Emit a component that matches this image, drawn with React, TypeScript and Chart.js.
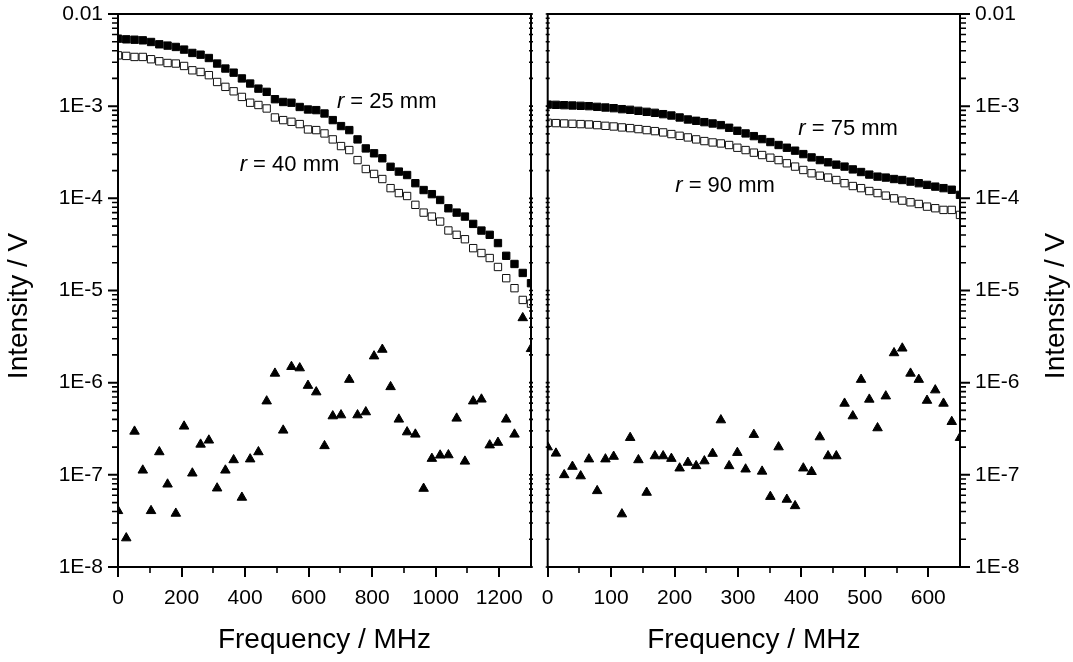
import React, { useEffect, useRef } from 'react';
import { Chart, registerables } from 'chart.js';

Chart.register(...registerables);

const FONT = '"Liberation Sans", Arial, Helvetica, sans-serif';

// ---------- data ----------
const freqLeft = [
  0, 26, 52, 78, 104, 130, 156, 182, 208, 234, 260, 286, 312, 338, 364, 390, 416,
  442, 468, 494, 520, 546, 572, 598, 624, 650, 676, 702, 728, 754, 780, 806, 832,
  858, 884, 910, 936, 962, 988, 1014, 1040, 1066, 1092, 1118, 1144, 1170, 1196,
  1222, 1248, 1274, 1300,
];
const freqRight = [
  0, 13, 26, 39, 52, 65, 78, 91, 104, 117, 130, 143, 156, 169, 182, 195, 208, 221,
  234, 247, 260, 273, 286, 299, 312, 325, 338, 351, 364, 377, 390, 403, 416, 429,
  442, 455, 468, 481, 494, 507, 520, 533, 546, 559, 572, 585, 598, 611, 624, 637, 650,
];

const r25 = [
  5.4e-3, 5.31e-3, 5.26e-3, 5.18e-3, 4.97e-3, 4.69e-3, 4.54e-3, 4.39e-3, 4.11e-3, 3.78e-3,
  3.62e-3, 3.33e-3, 2.9e-3, 2.56e-3, 2.31e-3, 2.0e-3, 1.76e-3, 1.55e-3, 1.43e-3, 1.19e-3,
  1.11e-3, 1.09e-3, 9.8e-4, 9.2e-4, 9.06e-4, 8.33e-4, 7.06e-4, 6.08e-4, 5.5e-4, 4.36e-4,
  3.48e-4, 3.08e-4, 2.72e-4, 2.2e-4, 1.95e-4, 1.79e-4, 1.46e-4, 1.23e-4, 1.11e-4, 9.6e-5,
  7.8e-5, 7.0e-5, 6.34e-5, 5.28e-5, 4.47e-5, 4.02e-5, 3.27e-5, 2.38e-5, 1.94e-5, 1.55e-5,
  1.2e-5,
];
const r40 = [
  3.56e-3, 3.51e-3, 3.42e-3, 3.42e-3, 3.23e-3, 3.07e-3, 2.94e-3, 2.9e-3, 2.73e-3, 2.45e-3,
  2.35e-3, 2.17e-3, 1.83e-3, 1.62e-3, 1.45e-3, 1.26e-3, 1.09e-3, 1.03e-3, 9.44e-4, 7.54e-4,
  7.06e-4, 6.77e-4, 6.39e-4, 5.59e-4, 5.5e-4, 5.06e-4, 4.36e-4, 3.69e-4, 3.34e-4, 2.6e-4,
  2.08e-4, 1.84e-4, 1.62e-4, 1.29e-4, 1.14e-4, 1.06e-4, 8.5e-5, 7.0e-5, 6.34e-5, 5.6e-5,
  4.48e-5, 4.02e-5, 3.6e-5, 2.88e-5, 2.55e-5, 2.25e-5, 1.8e-5, 1.36e-5, 1.06e-5, 7.9e-6,
  7.2e-6,
];
const noiseLeft = [
  4.07e-8, 2.06e-8, 2.96e-7, 1.12e-7, 4.07e-8, 1.77e-7, 7.9e-8, 3.81e-8, 3.36e-7, 1.04e-7,
  2.14e-7, 2.37e-7, 7.16e-8, 1.12e-7, 1.45e-7, 5.68e-8, 1.48e-7, 1.77e-7, 6.3e-7, 1.26e-6,
  3.04e-7, 1.49e-6, 1.44e-6, 9.3e-7, 7.9e-7, 2.06e-7, 4.34e-7, 4.45e-7, 1.08e-6, 4.45e-7,
  4.8e-7, 1.94e-6, 2.29e-6, 9.0e-7, 4.0e-7, 2.91e-7, 2.75e-7, 7.1e-8, 1.5e-7, 1.63e-7,
  1.64e-7, 4.1e-7, 1.4e-7, 6.3e-7, 6.6e-7, 2.1e-7, 2.24e-7, 4.0e-7, 2.75e-7, 5.04e-6,
  2.33e-6,
];
const r75 = [
  1.04e-3, 1.034e-3, 1.025e-3, 1.017e-3, 1.009e-3, 1.0e-3, 9.83e-4, 9.67e-4, 9.51e-4, 9.28e-4,
  9.13e-4, 8.9e-4, 8.68e-4, 8.47e-4, 8.19e-4, 7.92e-4, 7.54e-4, 7.17e-4, 6.94e-4, 6.71e-4,
  6.49e-4, 6.23e-4, 5.83e-4, 5.41e-4, 5.06e-4, 4.73e-4, 4.39e-4, 4.08e-4, 3.79e-4, 3.54e-4,
  3.29e-4, 3.02e-4, 2.78e-4, 2.6e-4, 2.46e-4, 2.32e-4, 2.21e-4, 2.06e-4, 1.93e-4, 1.81e-4,
  1.72e-4, 1.68e-4, 1.62e-4, 1.58e-4, 1.52e-4, 1.46e-4, 1.4e-4, 1.34e-4, 1.29e-4, 1.24e-4,
  1.09e-4,
];
const r90 = [
  6.6e-4, 6.55e-4, 6.49e-4, 6.44e-4, 6.39e-4, 6.33e-4, 6.23e-4, 6.12e-4, 6.02e-4, 5.88e-4,
  5.78e-4, 5.64e-4, 5.5e-4, 5.36e-4, 5.19e-4, 4.98e-4, 4.77e-4, 4.58e-4, 4.36e-4, 4.18e-4,
  4.04e-4, 3.94e-4, 3.79e-4, 3.54e-4, 3.34e-4, 3.13e-4, 2.95e-4, 2.76e-4, 2.6e-4, 2.4e-4,
  2.21e-4, 2.03e-4, 1.87e-4, 1.76e-4, 1.68e-4, 1.58e-4, 1.46e-4, 1.36e-4, 1.29e-4, 1.2e-4,
  1.14e-4, 1.07e-4, 1.0e-4, 9.45e-5, 9.06e-5, 8.69e-5, 8.13e-5, 7.81e-5, 7.49e-5, 7.49e-5,
  6.61e-5,
];
const noiseRight = [
  2.0e-7, 1.71e-7, 9.98e-8, 1.23e-7, 9.7e-8, 1.48e-7, 6.7e-8, 1.48e-7, 1.58e-7, 3.75e-8,
  2.53e-7, 1.45e-7, 6.43e-8, 1.6e-7, 1.6e-7, 1.5e-7, 1.18e-7, 1.36e-7, 1.25e-7, 1.41e-7,
  1.7e-7, 3.93e-7, 1.25e-7, 1.74e-7, 1.15e-7, 2.73e-7, 1.09e-7, 5.8e-8, 2.0e-7, 5.4e-8,
  4.6e-8, 1.18e-7, 1.08e-7, 2.57e-7, 1.6e-7, 1.6e-7, 5.95e-7, 4.34e-7, 1.08e-6, 6.58e-7,
  3.22e-7, 7.14e-7, 2.1e-6, 2.36e-6, 1.26e-6, 1.08e-6, 6.4e-7, 8.3e-7, 5.95e-7, 3.77e-7,
  2.53e-7,
];

// ---------- ticks ----------
const yDecades = [1e-8, 1e-7, 1e-6, 1e-5, 1e-4, 1e-3, 1e-2];
const yDecadeLabels = ['1E-8', '1E-7', '1E-6', '1E-5', '1E-4', '1E-3', '0.01'];
const yMinorFactors = [2, 3, 4, 5, 6, 7, 8, 9];
const xMajorLeft = [0, 200, 400, 600, 800, 1000, 1200];
const xMinorLeft = [100, 300, 500, 700, 900, 1100];
const xMajorRight = [0, 100, 200, 300, 400, 500, 600];
const xMinorRight = [50, 150, 250, 350, 450, 550];

// ---------- texts ----------
const xTitle = 'Frequency / MHz';
const yTitle = 'Intensity / V';
const annotLeft = [
  { italic: 'r', rest: ' = 25 mm', x: 689, y: 1.11e-3 },
  { italic: 'r', rest: ' = 40 mm', x: 383, y: 2.3e-4 },
];
const annotRight = [
  { italic: 'r', rest: ' = 75 mm', x: 395, y: 5.64e-4 },
  { italic: 'r', rest: ' = 90 mm', x: 201, y: 1.36e-4 },
];

const W = 1073;
const H = 662;

type Side = 'left' | 'right';

function toPoints(xs: number[], ys: number[]) {
  return xs.map((x, i) => ({ x, y: ys[i] }));
}

function makePlugin(side: Side, xMajor: number[], xMinor: number[], annots: any[], yTitleX: number) {
  return {
    id: 'frame_' + side,
    afterDatasetsDraw(chart: any) {
      const { ctx, chartArea: a, scales } = chart;
      const xs = scales.x;
      const ys = scales.y;
      ctx.save();
      ctx.strokeStyle = '#000';
      ctx.fillStyle = '#000';
      ctx.lineCap = 'butt';
      // frame
      ctx.lineWidth = 2;
      ctx.strokeRect(a.left, a.top, a.right - a.left, a.bottom - a.top);
      // x major ticks
      ctx.beginPath();
      for (const v of xMajor) {
        const px = Math.round(xs.getPixelForValue(v));
        ctx.moveTo(px, a.bottom);
        ctx.lineTo(px, a.bottom + 10);
      }
      ctx.stroke();
      ctx.lineWidth = 1.6;
      ctx.beginPath();
      for (const v of xMinor) {
        const px = Math.round(xs.getPixelForValue(v));
        ctx.moveTo(px, a.bottom);
        ctx.lineTo(px, a.bottom + 6);
      }
      ctx.stroke();
      // y ticks
      const outer = side === 'left' ? a.left : a.right;
      const inner = side === 'left' ? a.right : a.left;
      const dir = side === 'left' ? -1 : 1;
      ctx.lineWidth = 2;
      ctx.beginPath();
      for (const d of yDecades) {
        const py = ys.getPixelForValue(d);
        ctx.moveTo(outer, py);
        ctx.lineTo(outer + dir * 10, py);
      }
      ctx.stroke();
      ctx.lineWidth = 1.6;
      ctx.beginPath();
      for (let i = 0; i < yDecades.length - 1; i++) {
        for (const f of yMinorFactors) {
          const py = ys.getPixelForValue(yDecades[i] * f);
          ctx.moveTo(outer, py);
          ctx.lineTo(outer + dir * 6, py);
          ctx.moveTo(inner - 2, py);
          ctx.lineTo(inner + 2, py);
        }
      }
      for (const d of yDecades) {
        const py = ys.getPixelForValue(d);
        ctx.moveTo(inner - 2, py);
        ctx.lineTo(inner + 2, py);
      }
      ctx.stroke();

      // annotations
      ctx.textBaseline = 'middle';
      ctx.textAlign = 'left';
      for (const an of annots) {
        const px = xs.getPixelForValue(an.x);
        const py = ys.getPixelForValue(an.y);
        ctx.font = `italic 22px ${FONT}`;
        ctx.fillText(an.italic, px, py);
        const w = ctx.measureText(an.italic).width;
        ctx.font = `22px ${FONT}`;
        ctx.fillText(an.rest, px + w, py);
      }

      // axis titles
      ctx.font = `28px ${FONT}`;
      ctx.textAlign = 'center';
      ctx.textBaseline = 'alphabetic';
      ctx.fillText(xTitle, (a.left + a.right) / 2, 648);
      ctx.save();
      ctx.translate(yTitleX, 306);
      ctx.rotate(-Math.PI / 2);
      ctx.fillText(yTitle, 0, 0);
      ctx.restore();
      ctx.restore();
    },
  };
}

function buildConfig(
  side: Side,
  xs: number[],
  s1: number[],
  s2: number[],
  s3: number[],
  xMax: number,
  xMajor: number[],
  xMinor: number[],
  annots: any[],
  yTitleX: number,
  padding: any,
  yWidth: number
) {
  return {
    type: 'scatter',
    data: {
      datasets: [
        {
          data: toPoints(xs, s3),
          pointStyle: 'triangle',
          pointRadius: 5.5,
          backgroundColor: '#000',
          borderColor: '#000',
          borderWidth: 1,
          showLine: false,
          clip: 0,
        },
        {
          data: toPoints(xs, s2),
          pointStyle: 'rect',
          pointRadius: 5.2,
          backgroundColor: '#fff',
          borderColor: '#111',
          borderWidth: 1,
          showLine: false,
          clip: 0,
        },
        {
          data: toPoints(xs, s1),
          pointStyle: 'rect',
          pointRadius: 5.2,
          backgroundColor: '#000',
          borderColor: '#000',
          borderWidth: 1,
          showLine: false,
          clip: 0,
        },
      ],
    },
    options: {
      responsive: false,
      animation: false,
      events: [],
      devicePixelRatio: 1,
      layout: { padding },
      plugins: { legend: { display: false }, tooltip: { enabled: false }, title: { display: false } },
      scales: {
        x: {
          type: 'linear',
          position: 'bottom',
          min: 0,
          max: xMax,
          grid: { display: false, drawTicks: false },
          border: { display: false },
          afterBuildTicks: (scale: any) => {
            scale.ticks = xMajor.map((v) => ({ value: v }));
          },
          afterFit: (scale: any) => {
            scale.height = 95;
            scale.paddingLeft = 0;
            scale.paddingRight = 0;
            scale.paddingTop = 0;
            scale.paddingBottom = 0;
          },
          ticks: {
            autoSkip: false,
            maxRotation: 0,
            padding: 19,
            color: '#000',
            font: { size: 21, family: FONT },
            callback: (v: any) => String(v),
          },
        },
        y: {
          type: 'logarithmic',
          position: side,
          min: 1e-8,
          max: 1e-2,
          grid: { display: false, drawTicks: false },
          border: { display: false },
          afterBuildTicks: (scale: any) => {
            scale.ticks = yDecades.map((v) => ({ value: v }));
          },
          afterFit: (scale: any) => {
            scale.width = yWidth;
            scale.paddingLeft = 0;
            scale.paddingRight = 0;
            scale.paddingTop = 0;
            scale.paddingBottom = 0;
          },
          ticks: {
            autoSkip: false,
            padding: 15,
            color: '#000',
            font: { size: 21, family: FONT },
            callback: (_v: any, i: number) => yDecadeLabels[i],
          },
        },
      },
    },
    plugins: [makePlugin(side, xMajor, xMinor, annots, yTitleX)],
  };
}

const LEFT_W = 540;
const RIGHT_W = W - LEFT_W;

export default function App() {
  const leftRef = useRef<HTMLCanvasElement | null>(null);
  const rightRef = useRef<HTMLCanvasElement | null>(null);

  useEffect(() => {
    Chart.defaults.font.family = FONT;
    Chart.defaults.color = '#000';
    const c1 = new Chart(
      leftRef.current as HTMLCanvasElement,
      buildConfig('left', freqLeft, r25, r40, noiseLeft, 1300, xMajorLeft, xMinorLeft, annotLeft, 27,
        { left: 0, right: 9, top: 14, bottom: 0 }, 118) as any
    );
    const c2 = new Chart(
      rightRef.current as HTMLCanvasElement,
      buildConfig('right', freqRight, r75, r90, noiseRight, 650, xMajorRight, xMinorRight, annotRight, 1064 - LEFT_W,
        { left: 7.7, right: 0, top: 14, bottom: 0 }, 113) as any
    );
    return () => {
      c1.destroy();
      c2.destroy();
    };
  }, []);

  return (
    <div style={{ position: 'fixed', left: 0, top: 0, width: W, height: H, background: '#fff', overflow: 'hidden' }}>
      <canvas
        ref={leftRef}
        width={LEFT_W}
        height={H}
        style={{ position: 'absolute', left: 0, top: 0, width: LEFT_W, height: H }}
      />
      <canvas
        ref={rightRef}
        width={RIGHT_W}
        height={H}
        style={{ position: 'absolute', left: LEFT_W, top: 0, width: RIGHT_W, height: H }}
      />
    </div>
  );
}
